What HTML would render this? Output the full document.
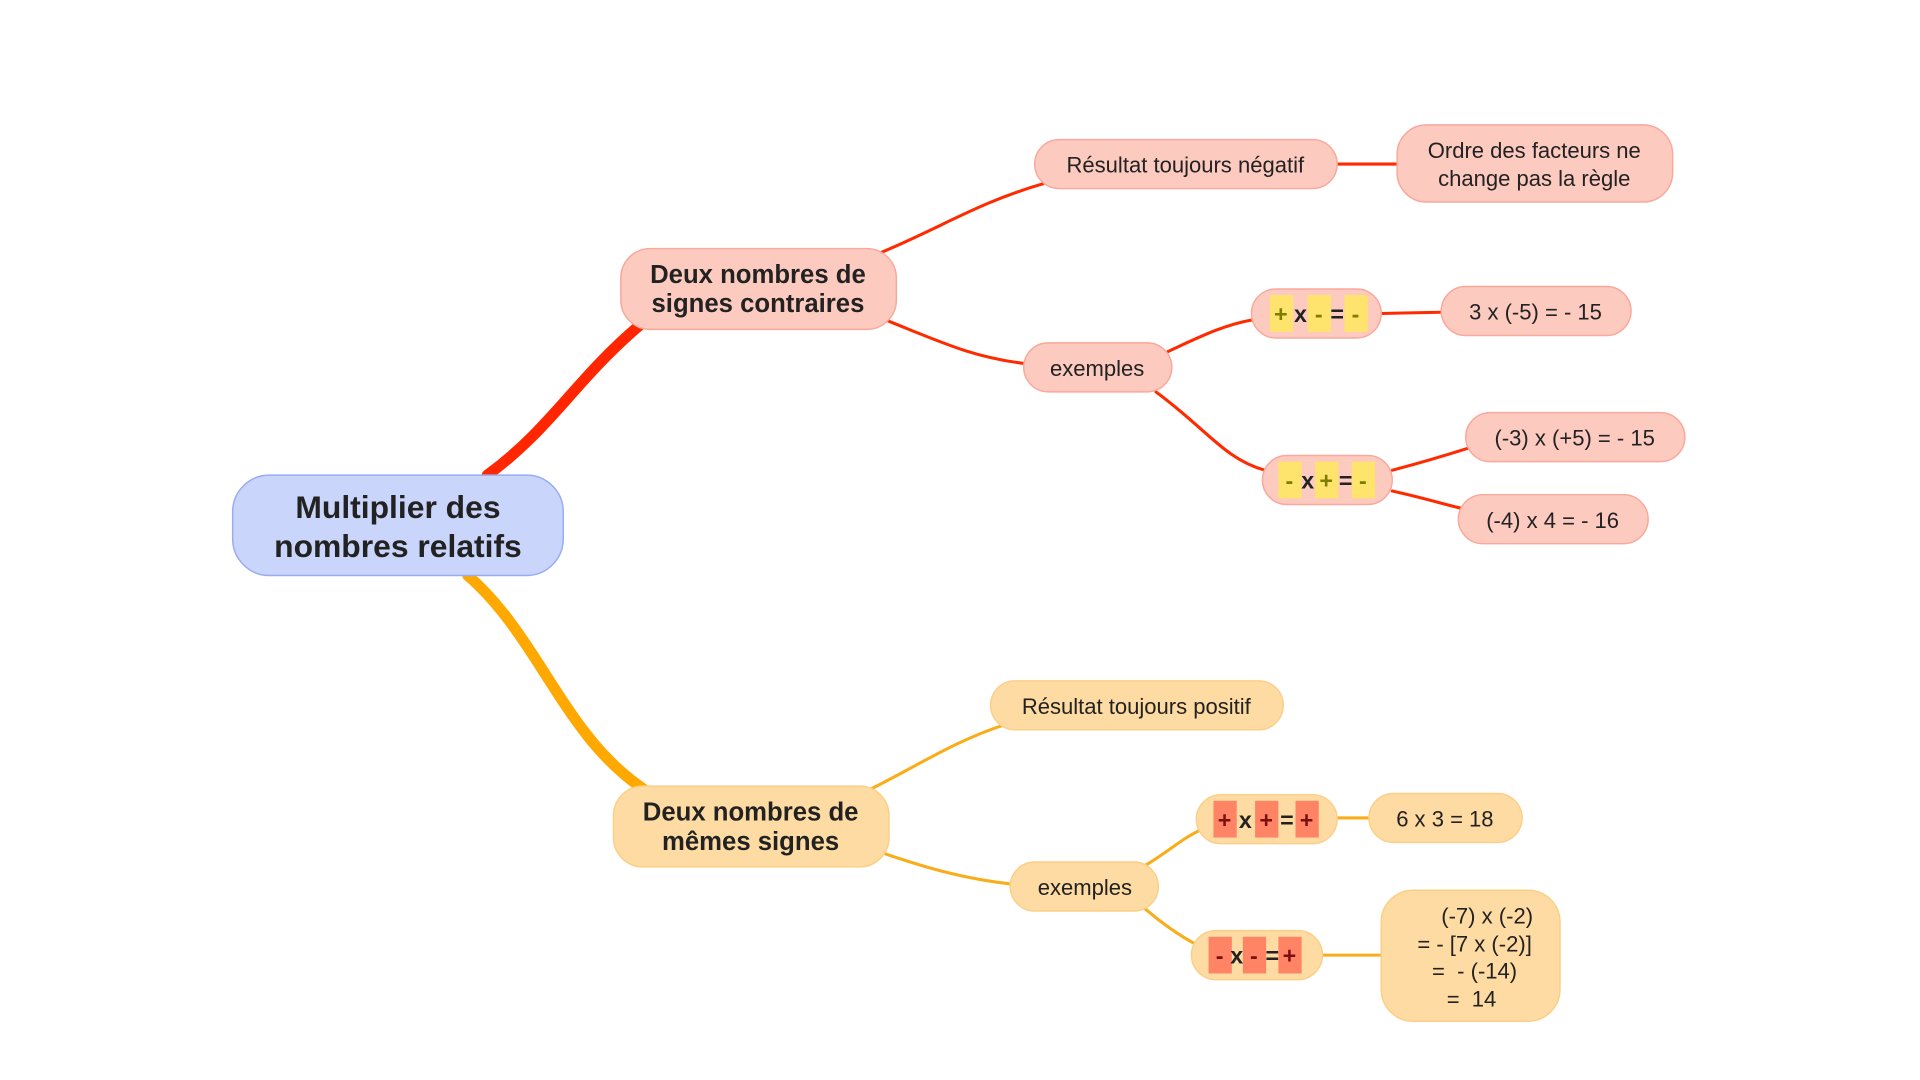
<!DOCTYPE html>
<html><head><meta charset="utf-8"><style>
html,body{margin:0;padding:0;background:#fff;}
svg{display:block;}
text{font-family:"Liberation Sans",Arial,sans-serif;fill:#222;}
.r{font-size:18px;}
.b{font-size:21px;font-weight:bold;}
.s{font-size:19px;font-weight:bold;}
.pre text{white-space:pre;}
</style></head><body>
<svg width="1920" height="1080" viewBox="0 0 1568 882" xmlns="http://www.w3.org/2000/svg">
<g fill="none" stroke-linecap="round">
<path d="M398,388 C450,350 470,310 522,266" stroke="#ff2600" stroke-width="9"/>
<path d="M382,470 C440,520 460,600 525,644" stroke="#ffa800" stroke-width="9"/>
<g stroke="#ff2a00" stroke-width="2.5">
<path d="M720,206 C770,185 800,165 852,150"/>
<path d="M725,262 C770,280 795,292 838,297"/>
<path d="M1092,134 L1141,134"/>
<path d="M954,287 C980,275 1000,265 1024,261"/>
<path d="M944,320 C985,350 1000,375 1033,384"/>
<path d="M1128,256 L1177,255"/>
<path d="M1137,384 C1160,378 1180,372 1199,366"/>
<path d="M1137,401 C1160,406 1180,412 1193,415"/>
</g>
<g stroke="#f9ad1a" stroke-width="2.5">
<path d="M710,645 C750,625 780,605 820,592"/>
<path d="M722,697 C760,710 790,718 826,722"/>
<path d="M935,707 C955,695 965,685 980,678"/>
<path d="M935,742 C950,755 965,765 978,772"/>
<path d="M1092,668 L1118,668"/>
<path d="M1080,780 L1128,780"/>
</g>
</g>
<g stroke-width="1.2">
<rect x="190" y="388" width="270" height="82" rx="30" fill="#c9d5fb" stroke="#98acf2"/>
<rect x="507" y="203" width="225" height="66" rx="24" fill="#fdcac0" stroke="#f9a89a"/>
<rect x="845" y="114" width="247" height="40" rx="20" fill="#fdcac0" stroke="#f9a89a"/>
<rect x="1141" y="102" width="225" height="63" rx="24" fill="#fdcac0" stroke="#f9a89a"/>
<rect x="836" y="280" width="121" height="40" rx="20" fill="#fdcac0" stroke="#f9a89a"/>
<rect x="1022" y="236" width="106" height="40" rx="20" fill="#fdcac0" stroke="#f9a89a"/>
<rect x="1177" y="234" width="155" height="40" rx="20" fill="#fdcac0" stroke="#f9a89a"/>
<rect x="1031" y="372" width="106" height="40" rx="20" fill="#fdcac0" stroke="#f9a89a"/>
<rect x="1197" y="337" width="179" height="40" rx="20" fill="#fdcac0" stroke="#f9a89a"/>
<rect x="1191" y="404" width="155" height="40" rx="20" fill="#fdcac0" stroke="#f9a89a"/>
<rect x="501" y="642" width="225" height="66" rx="24" fill="#fddba2" stroke="#fbcf86"/>
<rect x="809" y="556" width="239" height="40" rx="20" fill="#fddba2" stroke="#fbcf86"/>
<rect x="825" y="704" width="121" height="40" rx="20" fill="#fddba2" stroke="#fbcf86"/>
<rect x="977" y="649" width="115" height="40" rx="20" fill="#fddba2" stroke="#fbcf86"/>
<rect x="1118" y="648" width="125" height="40" rx="20" fill="#fddba2" stroke="#fbcf86"/>
<rect x="973" y="760" width="107" height="40" rx="20" fill="#fddba2" stroke="#fbcf86"/>
<rect x="1128" y="727" width="146" height="107" rx="26" fill="#fddba2" stroke="#fbcf86"/>
</g>
<g fill="#fee36c">
<rect x="1037" y="241" width="19" height="30"/><rect x="1068" y="241" width="19" height="30"/><rect x="1098" y="241" width="19" height="30"/>
<rect x="1044" y="377" width="19" height="30"/><rect x="1074" y="377" width="19" height="30"/><rect x="1104" y="377" width="19" height="30"/>
</g>
<g fill="#ff8466">
<rect x="991" y="654" width="19" height="30"/><rect x="1025" y="654" width="19" height="30"/><rect x="1058" y="654" width="19" height="30"/>
<rect x="987" y="765" width="19" height="30"/><rect x="1015" y="765" width="19" height="30"/><rect x="1044" y="765" width="19" height="30"/>
</g>
<g text-anchor="middle">
<text x="325" y="423" style="font-size:26px;font-weight:bold">Multiplier des</text>
<text x="325" y="455" style="font-size:26px;font-weight:bold">nombres relatifs</text>
<text x="619" y="231" class="b">Deux nombres de</text>
<text x="619" y="255" class="b">signes contraires</text>
<text x="968" y="141" class="r">Résultat toujours négatif</text>
<text x="1253" y="129" class="r">Ordre des facteurs ne</text>
<text x="1253" y="152" class="r">change pas la règle</text>
<text x="896" y="307" class="r">exemples</text>
<text x="1254" y="261" class="r">3 x (-5) = - 15</text>
<text x="1286" y="364" class="r">(-3) x (+5) = - 15</text>
<text x="1268" y="431" class="r">(-4) x 4 = - 16</text>
<text x="613" y="670" class="b">Deux nombres de</text>
<text x="613" y="694" class="b">mêmes signes</text>
<text x="928" y="583" class="r">Résultat toujours positif</text>
<text x="886" y="731" class="r">exemples</text>
<text x="1180" y="675" class="r">6 x 3 = 18</text>
<g class="s">
<text x="1046" y="263" style="fill:#7d7d00">+</text><text x="1062" y="263">x</text><text x="1077" y="263" style="fill:#7d7d00">-</text><text x="1092" y="263">=</text><text x="1107" y="263" style="fill:#7d7d00">-</text>
<text x="1053" y="399" style="fill:#7d7d00">-</text><text x="1068" y="399">x</text><text x="1083" y="399" style="fill:#7d7d00">+</text><text x="1099" y="399">=</text><text x="1113" y="399" style="fill:#7d7d00">-</text>
<text x="1000" y="676" style="fill:#7a1010">+</text><text x="1017" y="676">x</text><text x="1034" y="676" style="fill:#7a1010">+</text><text x="1051" y="676">=</text><text x="1067" y="676" style="fill:#7a1010">+</text>
<text x="996" y="787" style="fill:#7a1010">-</text><text x="1010" y="787">x</text><text x="1024" y="787" style="fill:#7a1010">-</text><text x="1039" y="787">=</text><text x="1053" y="787" style="fill:#7a1010">+</text>
</g>
</g>
<g text-anchor="end" class="r pre">
<text x="1252" y="754">(-7) x (-2)</text>
<text x="1251" y="777">= - [7 x (-2)]</text>
<text x="1239" y="799">=  - (-14)</text>
<text x="1222" y="822">=  14</text>
</g>
</svg>
</body></html>
